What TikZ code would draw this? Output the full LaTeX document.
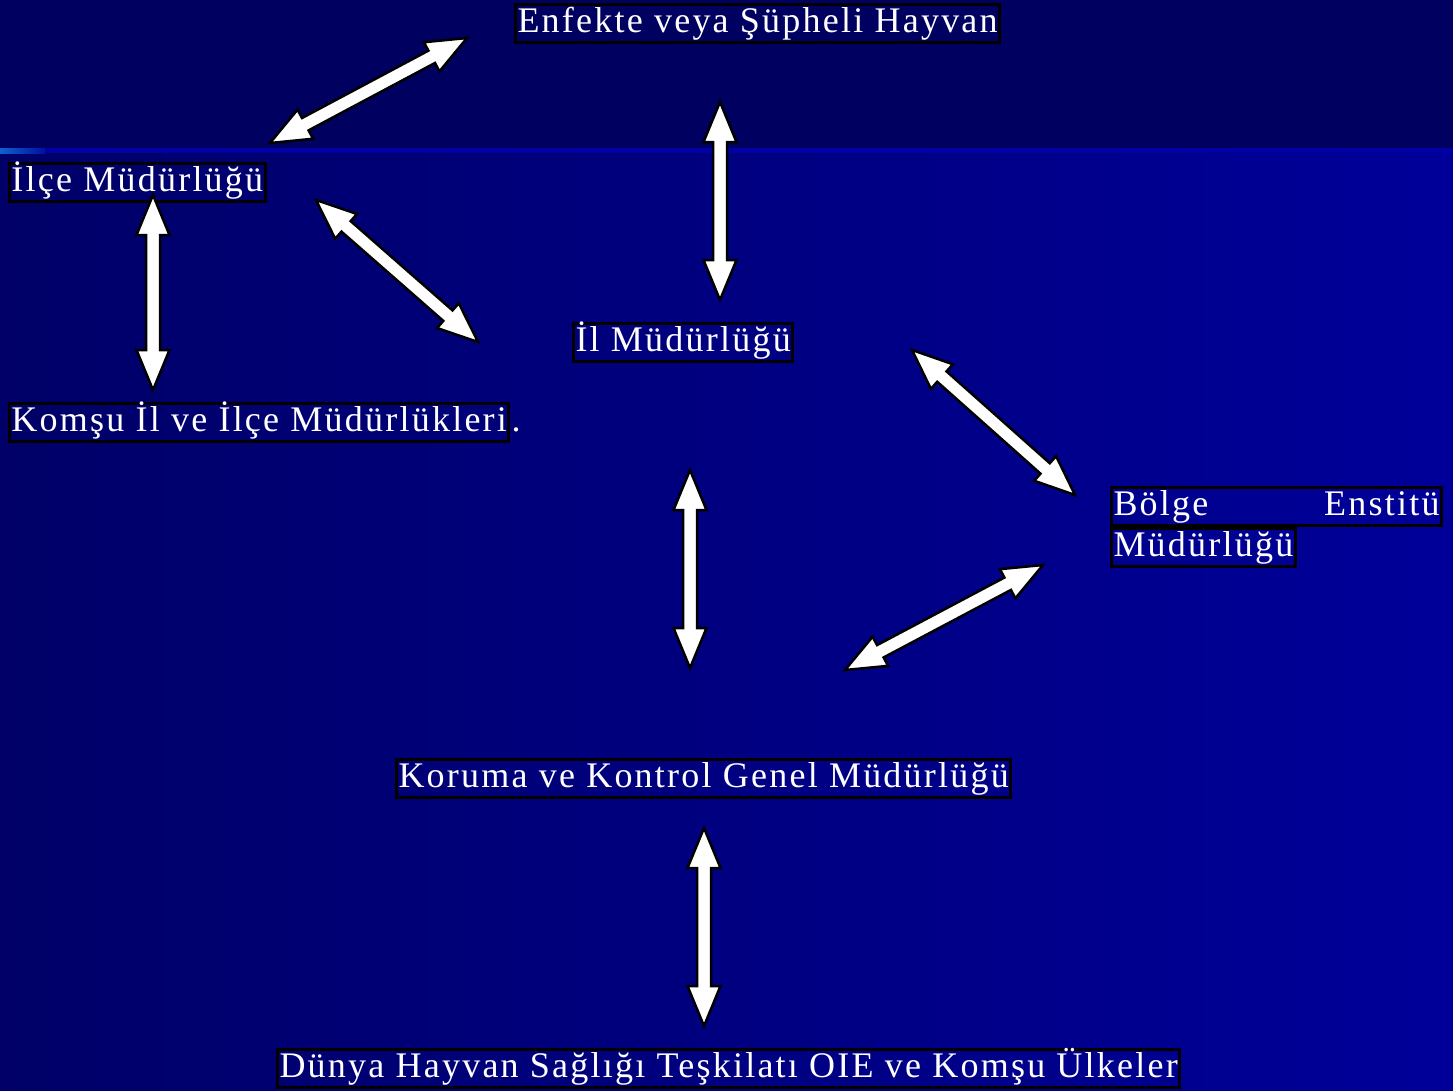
\documentclass[tikz,border=0pt]{standalone}
\usepackage{fontspec}
\setmainfont{Liberation Serif}
\usetikzlibrary{calc}
\definecolor{topband}{RGB}{0,0,96}
\definecolor{bgleft}{RGB}{0,0,104}
\definecolor{bgright}{RGB}{0,0,153}
\definecolor{lineA}{RGB}{16,96,208}
\definecolor{lineB}{RGB}{0,16,160}
\definecolor{lineC}{RGB}{0,0,164}
\tikzset{
  lbl/.style={draw=black, line width=3pt, text=white, inner xsep=2pt, inner ysep=2pt,
    text height=26pt, text depth=8pt, anchor=north west,
    font=\fontsize{36}{39}\selectfont\addfontfeatures{LetterSpace=6.2}},
  blk/.style={fill=white, draw=black, line width=2.5pt, line join=miter},
}
\newcommand\dblarrow[2]{%
  \path ($(#1)!40pt!(#2)$) coordinate (ha) ($(#2)!40pt!(#1)$) coordinate (hb);
  \draw[blk] (#1) -- ($(ha)!16.5pt!90:(#2)$) -- ($(ha)!7pt!90:(#2)$)
    -- ($(hb)!7pt!-90:(#1)$) -- ($(hb)!16.5pt!-90:(#1)$) -- (#2)
    -- ($(hb)!16.5pt!90:(#1)$) -- ($(hb)!7pt!90:(#1)$)
    -- ($(ha)!7pt!-90:(#2)$) -- ($(ha)!16.5pt!-90:(#2)$) -- cycle;}
\begin{document}
\begin{tikzpicture}[x=1pt,y=-1pt]
\useasboundingbox (0,0) rectangle (1453,1090);
% background
\shade[left color=bgleft, right color=bgright] (0,150) rectangle (1453,1090);
\fill[topband] (0,0) rectangle (1453,148);
\shade[left color=lineA, right color=lineB] (0,148) rectangle (45,153);
\fill[lineC] (45,148) rectangle (1453,153);
% labels
\node[lbl] (enf) at (514,3) {Enfekte veya Şüpheli Hayvan};
\node[lbl] (ilce) at (8,162) {İlçe Müdürlüğü};
\node[lbl] (il) at (572,322) {İl Müdürlüğü};
\node[lbl] (komsu) at (8,402) {Komşu İl ve İlçe Müdürlükleri};
\node[text=white, anchor=base west, inner sep=0pt, font=\fontsize{36}{39}\selectfont] (dot) at ([xshift=1pt]komsu.base east) {.};
\node[lbl, text width=326pt] (bolge) at (1110,486) {Bölge\hfill Enstitü};
\node[lbl] (bmud) at (1110,527) {Müdürlüğü};
\node[lbl] (kor) at (395,758) {Koruma ve Kontrol Genel Müdürlüğü};
\node[lbl] (dun) at (276,1048) {Dünya Hayvan Sağlığı Teşkilatı OIE ve Komşu Ülkeler};
% arrow end points
\coordinate (a1) at (270,143); \coordinate (b1) at (467,38);
\coordinate (a2) at (720,102); \coordinate (b2) at (720,300);
\coordinate (a3) at (316,200); \coordinate (b3) at (478,342);
\coordinate (a4) at (153,195); \coordinate (b4) at (153,390);
\coordinate (a5) at (912,350); \coordinate (b5) at (1075,495);
\coordinate (a6) at (690,470); \coordinate (b6) at (690,668);
\coordinate (a7) at (845,670); \coordinate (b7) at (1043,565);
\coordinate (a8) at (704,828); \coordinate (b8) at (704,1026);
\dblarrow{a1}{b1}
\dblarrow{a2}{b2}
\dblarrow{a3}{b3}
\dblarrow{a4}{b4}
\dblarrow{a5}{b5}
\dblarrow{a6}{b6}
\dblarrow{a7}{b7}
\dblarrow{a8}{b8}
\end{tikzpicture}
\end{document}
